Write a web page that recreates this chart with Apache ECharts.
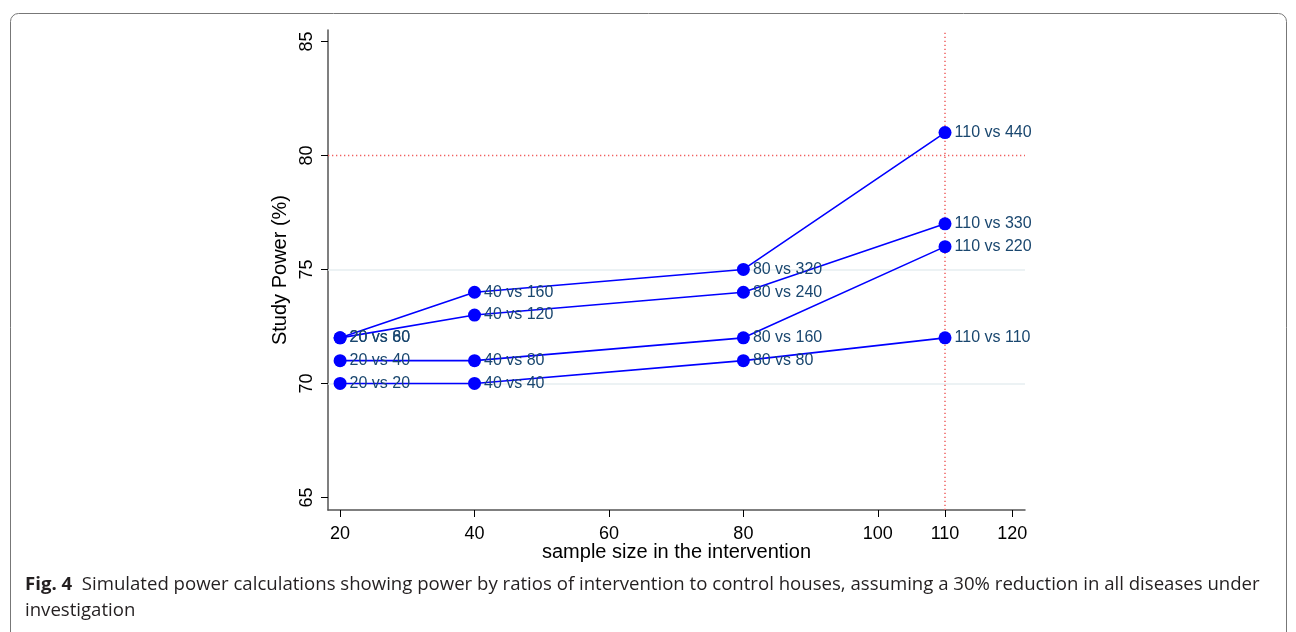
<!DOCTYPE html>
<html>
<head>
<meta charset="utf-8">
<script src="https://cdn.jsdelivr.net/npm/echarts@6/dist/echarts.min.js"></script>
<style>
html,body{margin:0;padding:0;background:#fff;}
#chart{width:1296px;height:632px;}
</style>
</head>
<body>
<div id="chart"></div>
<script>
// ---- data ----
const xValues = [20, 40, 80, 110];
const ratio1 = [70, 70, 71, 72];
const ratio2 = [71, 71, 72, 76];
const ratio3 = [72, 73, 74, 77];
const ratio4 = [72, 74, 75, 81];
const labels1 = ['20 vs 20', '40 vs 40', '80 vs 80', '110 vs 110'];
const labels2 = ['20 vs 40', '40 vs 80', '80 vs 160', '110 vs 220'];
const labels3 = ['20 vs 60', '40 vs 120', '80 vs 240', '110 vs 330'];
const labels4 = ['20 vs 80', '40 vs 160', '80 vs 320', '110 vs 440'];
const xTicks = [20, 40, 60, 80, 100, 110, 120];
const yTicks = [65, 70, 75, 80, 85];
const gridLinesY = [70, 75];
const refY = 80;
const refX = 110;
const xTitle = 'sample size in the intervention';
const yTitle = 'Study Power (%)';
const captionBold = 'Fig. 4';
const captionText = 'Simulated power calculations showing power by ratios of intervention to control houses, assuming a 30% reduction in all diseases under\ninvestigation';

const chart = echarts.init(document.getElementById('chart'));
const font = 'Liberation Sans, Arial, sans-serif';

function mkSeries(vals, labs) {
  return {
    type: 'line',
    z: 3,
    data: xValues.map((x, i) => ({ value: [x, vals[i]], lab: labs[i] })),
    symbol: 'circle',
    symbolSize: 13,
    lineStyle: { color: '#0000ff', width: 1.6 },
    itemStyle: { color: '#0000ff' },
    label: {
      show: true,
      position: 'right',
      distance: 3,
      formatter: p => p.data.lab,
      color: '#1a476f',
      fontFamily: font,
      fontSize: 16
    },
    animation: false
  };
}

const markData = gridLinesY.map(v => ({ yAxis: v, lineStyle: { color: '#e6eef0', width: 1.5, type: 'solid' } }));
markData.push({ yAxis: refY, lineStyle: { color: '#f06060', width: 1.3, type: [1.3, 2.7] } });
markData.push({ xAxis: refX, lineStyle: { color: '#f06060', width: 1.5, type: [1.3, 2.7] } });

const option = {
  animation: false,
  grid: { left: 328, right: 271, top: 30, bottom: 122 },
  xAxis: {
    type: 'value',
    min: 18.2,
    max: 121.9,
    name: xTitle,
    nameLocation: 'middle',
    nameGap: 32,
    nameMoveOverlap: false,
    nameTextStyle: { color: '#000', fontFamily: font, fontSize: 20 },
    axisLine: { show: true, lineStyle: { color: '#555', width: 1.5 } },
    axisTick: { show: true, length: 7, customValues: xTicks, lineStyle: { color: '#000' } },
    axisLabel: { customValues: xTicks, color: '#000', fontFamily: font, fontSize: 18, margin: 15 },
    splitLine: { show: false }
  },
  yAxis: {
    type: 'value',
    min: 64.45,
    max: 85.5,
    name: yTitle,
    nameLocation: 'middle',
    nameGap: 27,
    nameTextStyle: { color: '#000', fontFamily: font, fontSize: 20 },
    axisLine: { show: true, lineStyle: { color: '#555', width: 1.5 } },
    axisTick: { show: true, length: 7, customValues: yTicks, lineStyle: { color: '#000' } },
    axisLabel: { customValues: yTicks, rotate: 90, color: '#000', fontFamily: font, fontSize: 18, margin: 12 },
    splitLine: { show: false }
  },
  graphic: [
    {
      type: 'rect',
      shape: { x: 10.5, y: 13.5, width: 1276, height: 640, r: 8 },
      style: { fill: 'none', stroke: '#777', lineWidth: 1 },
      silent: true
    },
    {
      type: 'text',
      left: 25,
      top: 572,
      style: {
        text: '{b|' + captionBold + '}  ' + captionText,
        fontFamily: 'Open Sans, sans-serif',
        fontSize: 18.6,
        lineHeight: 26,
        fill: '#231f20',
        rich: { b: { fontWeight: 'bold', fontFamily: 'Open Sans, sans-serif', fontSize: 18.6, fill: '#231f20' } }
      }
    }
  ],
  series: [
    {
      type: 'line',
      z: 1,
      data: [],
      markLine: { z: 1, symbol: 'none', silent: true, label: { show: false }, data: markData, animation: false }
    },
    mkSeries(ratio1, labels1),
    mkSeries(ratio2, labels2),
    mkSeries(ratio3, labels3),
    mkSeries(ratio4, labels4)
  ]
};
chart.setOption(option);
</script>
</body>
</html>
